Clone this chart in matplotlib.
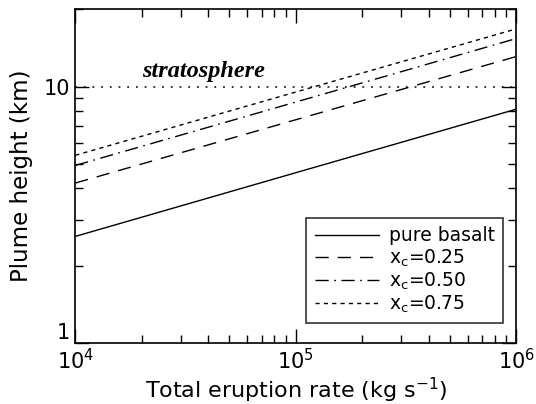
import matplotlib
matplotlib.use("Agg")
import matplotlib.pyplot as plt
from matplotlib.ticker import LogLocator, NullFormatter

# Eruption rate (kg/s) and plume heights (km)
rate = [1e4, 1e5, 1e6]
h_basalt = [2.60, 4.61, 8.16]
h_025 = [4.20, 7.42, 13.1]
h_050 = [4.92, 8.70, 15.4]
h_075 = [5.39, 9.52, 16.8]

strat_height = 10.0

plt.rcParams['font.family'] = 'DejaVu Sans'

fig = plt.figure(figsize=(5.36, 4.04), dpi=100)
ax = fig.add_axes([0.1405, 0.1517, 0.823, 0.825])

ax.plot(rate, h_basalt, color='black', lw=1.0, ls='-', label='pure basalt')
ax.plot(rate, h_025, color='black', lw=1.0, ls=(0, (9.5, 6.5)), label='x$_\\mathregular{c}$=0.25')
ax.plot(rate, h_050, color='black', lw=1.0, ls=(0, (9.5, 4, 1.2, 4)), label='x$_\\mathregular{c}$=0.50')
ax.plot(rate, h_075, color='black', lw=1.0, ls=(0, (3, 3)), label='x$_\\mathregular{c}$=0.75')

# stratosphere boundary
ax.plot([rate[0], rate[-1]], [strat_height, strat_height], color='black', lw=1.1, ls=(0, (1.2, 4.5)))
ax.text(2.0e4, 11.4, 'stratosphere', fontsize=17.5, style='italic', weight='bold',
        family='Liberation Serif', va='center', ha='left')

ax.set_xscale('log')
ax.set_yscale('log')
ax.set_xlim(1e4, 1e6)
ax.set_ylim(1, 20)

ax.set_xticks([1e4, 1e5, 1e6])
ax.set_xticklabels(['10$^\\mathregular{4}$', '10$^\\mathregular{5}$', '10$^\\mathregular{6}$'])
ax.set_yticks([1, 10])
ax.set_yticklabels(['1', '10'])
ax.xaxis.set_minor_locator(LogLocator(base=10, subs=range(2, 10)))
ax.yaxis.set_minor_locator(LogLocator(base=10, subs=range(2, 10)))
ax.xaxis.set_minor_formatter(NullFormatter())
ax.yaxis.set_minor_formatter(NullFormatter())

ax.tick_params(which='both', direction='in', top=True, right=True, labelsize=15, width=1.0)
ax.tick_params(which='major', length=10, pad=4)
ax.tick_params(which='minor', length=6)
for s in ax.spines.values():
    s.set_linewidth(1.2)
# bottom label sits above the corner, as in the original
ax.get_yticklabels()[0].set_va('bottom')

ax.set_xlabel('Total eruption rate (kg s$^{\\mathregular{-1}}$)', fontsize=16)
ax.set_ylabel('Plume height (km)', fontsize=16.5)
ax.xaxis.set_label_coords(0.5, -0.1)
ax.yaxis.set_label_coords(-0.097, 0.5)

leg = ax.legend(loc='lower right', fontsize=13.5, frameon=True, fancybox=False,
                edgecolor='black', handlelength=3.4, handletextpad=0.55,
                borderpad=0.45, labelspacing=0.1, borderaxespad=0,
                bbox_to_anchor=(0.9705, 0.058))
leg.get_frame().set_linewidth(1.2)

fig.savefig('out.png', dpi=100)
